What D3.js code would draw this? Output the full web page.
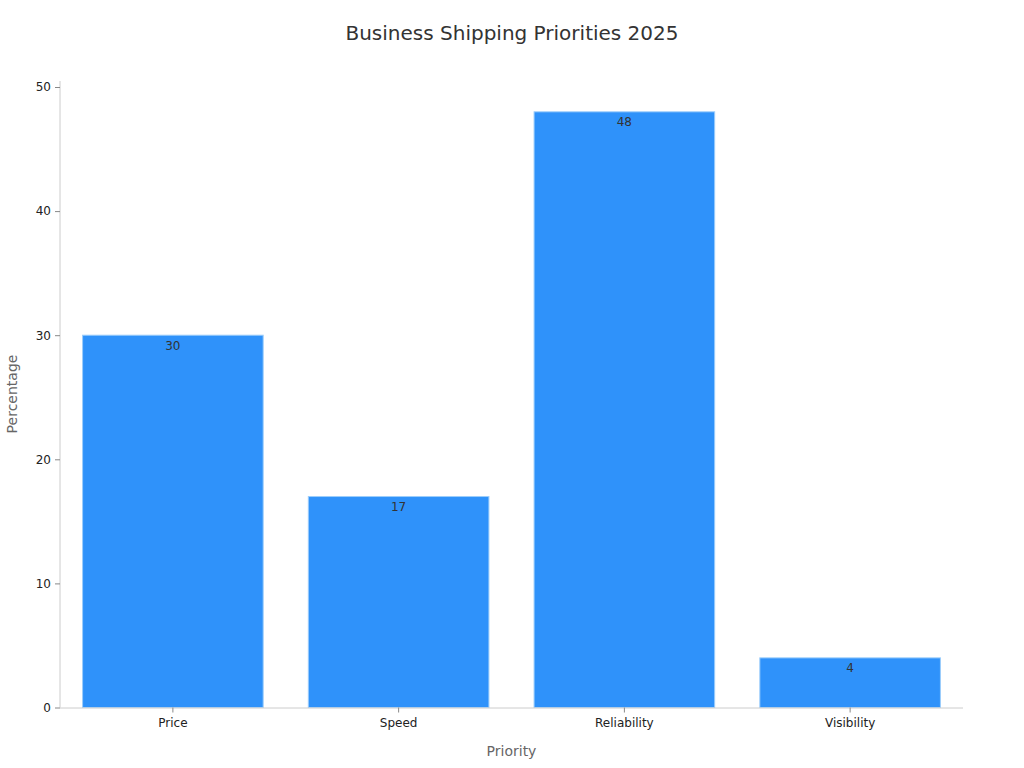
<!DOCTYPE html>
<html lang="en">
<head>
  <meta charset="utf-8">
  <title>Business Shipping Priorities 2025</title>
  <script src="https://d3js.org/d3.v7.min.js"></script>
  <style>
    body { margin: 0; background: #fff; }
    text { font-family: "DejaVu Sans", sans-serif; }
  </style>
</head>
<body>
<div id="chart"></div>
<script>
// data
var categories = ["Price", "Speed", "Reliability", "Visibility"];
var values = [30, 17, 48, 4];
var yTicks = [0, 10, 20, 30, 40, 50];

var W = 1024, H = 768;
var margin = {top: 87, right: 61, bottom: 60.5, left: 60};
var width = W - margin.left - margin.right,
    height = H - margin.top - margin.bottom;

var svg = d3.select("#chart").append("svg")
    .attr("width", W)
    .attr("height", H);

svg.append("text")
    .attr("x", W / 2)
    .attr("y", 40)
    .attr("text-anchor", "middle")
    .attr("font-size", 20)
    .attr("fill", "#333")
    .text("Business Shipping Priorities 2025");

var g = svg.append("g")
    .attr("transform", "translate(" + margin.left + "," + margin.top + ")");

var x = d3.scaleBand()
    .domain(categories)
    .range([0, width])
    .paddingInner(0.2)
    .paddingOuter(0.1);

var y = d3.scaleLinear()
    .domain([0, 50])
    .range([height, 0]);

// y axis
var yAxis = g.append("g")
    .call(d3.axisLeft(y).tickValues(yTicks).tickSize(5).tickPadding(4));
yAxis.select(".domain").attr("stroke", "#ccc").attr("d", "M0," + height + "V-6");
yAxis.selectAll(".tick line").attr("stroke", "#888");
yAxis.selectAll(".tick text").attr("font-size", 12).attr("fill", "#222")
    .style("font-family", "DejaVu Sans, sans-serif");

// bars
g.selectAll(".bar")
  .data(values)
  .enter()
  .append("rect")
    .attr("class", "bar")
    .attr("x", function(d, i) { return x(categories[i]); })
    .attr("y", function(d) { return y(d); })
    .attr("width", x.bandwidth())
    .attr("height", function(d) { return height - y(d); })
    .attr("fill", "#2f92fa")
    .attr("stroke", "#9ccdfb")
    .attr("stroke-width", 1);

// value labels
g.selectAll(".lbl")
  .data(values)
  .enter()
  .append("text")
    .attr("class", "lbl")
    .attr("x", function(d, i) { return x(categories[i]) + x.bandwidth() / 2; })
    .attr("y", function(d) { return y(d) + 14.5; })
    .attr("text-anchor", "middle")
    .attr("font-size", 12)
    .attr("fill", "#333")
    .text(function(d) { return d; });

// x axis
var xAxis = g.append("g")
    .attr("transform", "translate(0," + height + ")")
    .call(d3.axisBottom(x).tickSize(5).tickPadding(6));
xAxis.select(".domain").attr("stroke", "#ccc").attr("d", "M0,0.5H" + width);
xAxis.selectAll(".tick line").attr("stroke", "#888");
xAxis.selectAll(".tick text").attr("font-size", 12).attr("fill", "#222")
    .style("font-family", "DejaVu Sans, sans-serif");

// axis titles
svg.append("text")
    .attr("x", margin.left + width / 2)
    .attr("y", 756)
    .attr("text-anchor", "middle")
    .attr("font-size", 14)
    .attr("fill", "#666")
    .text("Priority");

svg.append("text")
    .attr("transform", "translate(17,394) rotate(-90)")
    .attr("text-anchor", "middle")
    .attr("font-size", 14)
    .attr("fill", "#666")
    .text("Percentage");
</script>
</body>
</html>
